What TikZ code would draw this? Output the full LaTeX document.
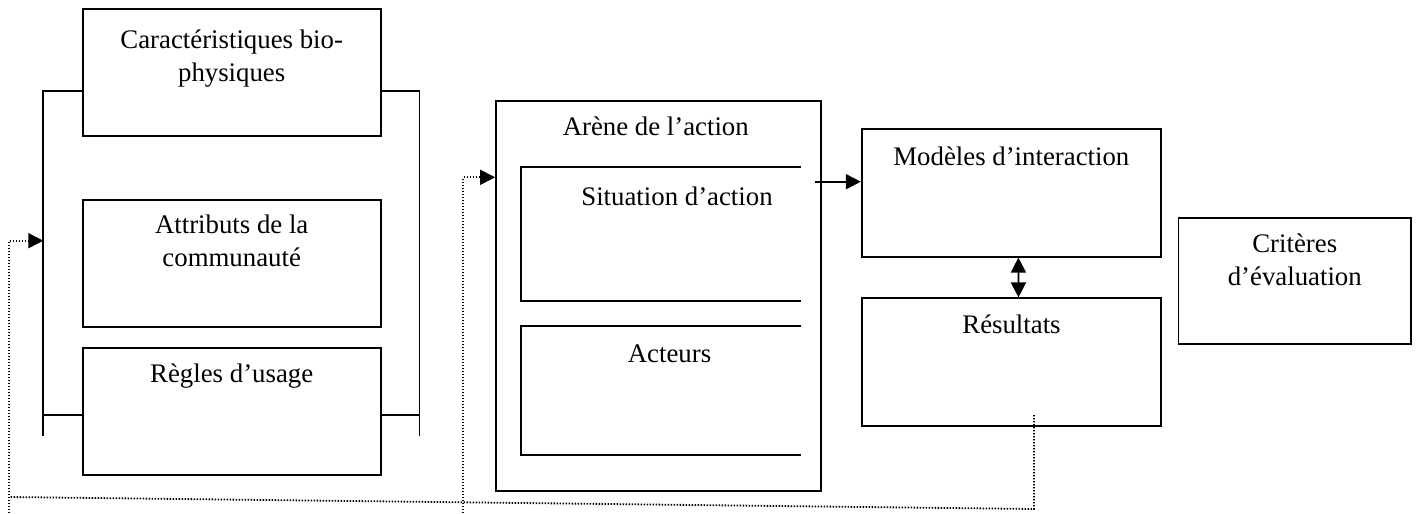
\documentclass[tikz,border=0pt]{standalone}
\usepackage{fontspec}
\setmainfont{Liberation Serif}
\usetikzlibrary{arrows.meta,positioning}

\begin{document}
\begin{tikzpicture}[
    x=0.5pt, y=-0.5pt,
    box/.style={rectangle, draw=black, line width=0.9pt, inner sep=0pt},
    openbox/.style={rectangle, inner sep=0pt},
    lbl/.style={font=\fontsize{13.4}{16.5}\selectfont, align=center, inner sep=0pt},
    wire/.style={line width=0.9pt},
    link/.style={line width=0.9pt, -{Triangle[length=7.5pt,width=7.5pt]}},
    twoway/.style={line width=0.9pt, {Triangle[length=7.5pt,width=7.5pt]}-{Triangle[length=7.5pt,width=7.5pt]}},
    dots/.style={line width=0.9pt, dash pattern=on 0.7pt off 0.8pt},
    dotlink/.style={dots, -{Triangle[length=7.5pt,width=7.5pt]}},
]

\useasboundingbox (0,0) rectangle (1416,513);

% left column
\node[box, minimum width=149pt, minimum height=63.35pt] (bio) at (231.7,72.65) {};
\node[box, minimum width=149pt, minimum height=63.35pt] (attr) at (231.7,263.35) {};
\node[box, minimum width=149pt, minimum height=63.65pt] (rules) at (231.7,411.35) {};

\node[lbl, below=10.4pt of bio.north] (bioT) {Caractéristiques bio-\\physiques};
\node[lbl, below=7.8pt of attr.north] (attrT) {Attributs de la\\communauté};
\node[lbl, below=8.4pt of rules.north] (rulesT) {Règles d’usage};

\coordinate (lt) at (43.3,90.7);
\coordinate (lb) at (43.3,436);
\coordinate (lm) at (43.3,415);
\coordinate (rt) at (419.5,90.7);
\coordinate (rb) at (419.5,436);
\coordinate (rm) at (419.5,415);
\draw[wire] (bio.west |- lt) -- (lt) -- (lb);
\draw[wire] (lm) -- (lm -| rules.west);
\draw[wire] (bio.east |- rt) -- (rt) -- (rb);
\draw[wire] (rm) -- (rm -| rules.east);

% action arena
\node[box, minimum width=162.35pt, minimum height=195pt] (arena) at (658.35,295.7) {};
\node[openbox, minimum width=140pt, minimum height=66.7pt] (sit) at (661,234) {};
\node[openbox, minimum width=140pt, minimum height=63.8pt] (act) at (661,390.5) {};

\node[lbl, below=8.3pt of arena.north, xshift=-1.3pt] (arenaT) {Arène de l’action};
\node[lbl, below=9.6pt of sit.north, xshift=8pt] (sitT) {Situation d’action};
\node[lbl, below=9.2pt of act.north, xshift=4.25pt] (actT) {Acteurs};

\draw[wire] (sit.north east) -- (sit.north west) -- (sit.south west) -- (sit.south east);
\draw[wire] (act.north east) -- (act.north west) -- (act.south west) -- (act.south east);

% right part
\node[box, minimum width=149.65pt, minimum height=63.7pt] (mod) at (1011.35,193) {};
\node[box, minimum width=149.5pt, minimum height=63.7pt] (res) at (1011.5,362) {};
\node[box, minimum width=116.25pt, minimum height=63pt] (crit) at (1294.75,281.3) {};

\node[lbl, below=9pt of mod.north] (modT) {Modèles d’interaction};
\node[lbl, below=8.4pt of res.north] (resT) {Résultats};
\node[lbl, below=7.9pt of crit.north] (critT) {Critères\\d’évaluation};

\coordinate (sitout) at (815,181.7);
\draw[link] (sitout) -- (sitout -| mod.west);
\draw[twoway] ([xshift=3.5pt]mod.south) -- ([xshift=3.5pt]res.north);

% feedback
\coordinate (back) at (1034,415);
\coordinate (backlow) at (1034,509);
\coordinate (backend) at (9,497);
\draw[dots] (back) -- (backlow) -- (backend);

\coordinate (fb1) at (9,513);
\coordinate (fb1top) at (9,240.7);
\draw[dotlink] (fb1) -- (fb1top) -- (fb1top -| lt);

\coordinate (fb2) at (463.3,513);
\coordinate (fb2top) at (463.3,177.3);
\draw[dotlink] (fb2) -- (fb2top) -- (fb2top -| arena.west);

\end{tikzpicture}
\end{document}
